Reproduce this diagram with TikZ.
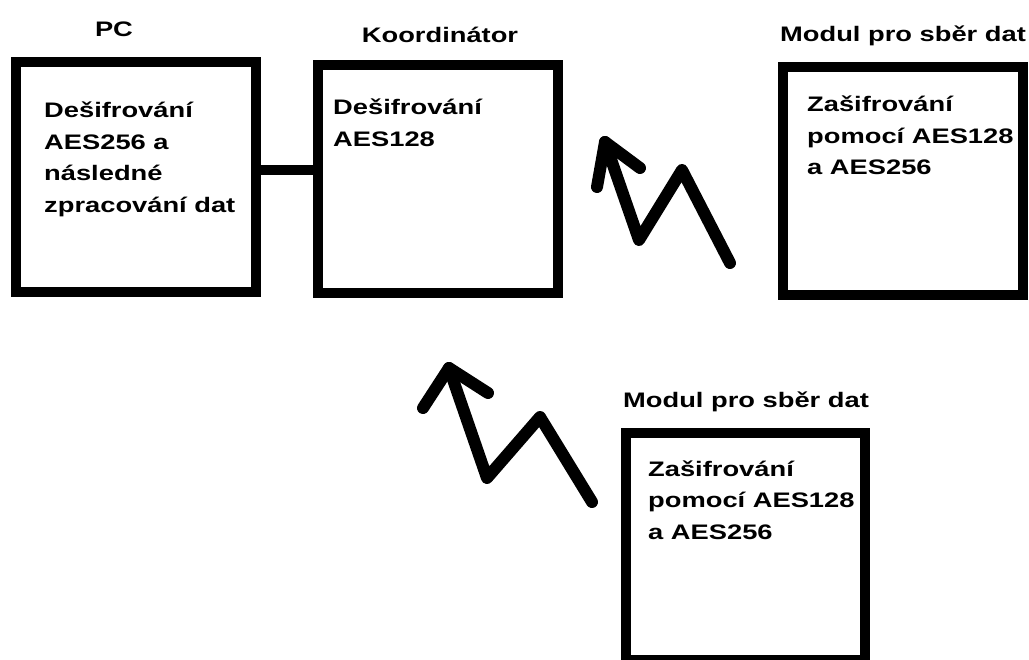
\documentclass[tikz,border=0pt]{standalone}
\usepackage{fontspec}
\setmainfont{Liberation Sans}[FakeStretch=1.3]
\usetikzlibrary{positioning}

\begin{document}
\begin{tikzpicture}[
    x=1pt,y=-1pt,
    block/.style={draw,line width=10pt,minimum width=240pt,minimum height=228pt,inner sep=0pt},
    wire/.style={line width=10pt},
    radio/.style={line width=12pt,line cap=round,line join=round},
    caption/.style={font=\bfseries\fontsize{21}{31.5}\selectfont,inner sep=0pt,anchor=base},
    % multi-line: base sits on the last line
    body/.style={font=\bfseries\fontsize{21}{31.5}\selectfont,inner sep=0pt,align=left,anchor=base west}
  ]
  \useasboundingbox (0,0) rectangle (1029,660);

  % blocks
  \node[block,minimum height=230pt] (pc) at (136,177) {};
  \node[block] (koord) at (438,179) {};
  \node[block] (modA) at (903,181) {};
  \node[block,minimum width=239pt,minimum height=227pt] (modB) at (745.5,546.5) {};

  % titles above the blocks
  \node[caption] (pcT) at (114,37) {PC};
  \node[caption] (koordT) at (440,43) {Koordinátor};
  \node[caption] (modAT) at (903,42) {Modul pro sběr dat};
  \node[caption] (modBT) at (746,408) {Modul pro sběr dat};

  % texts inside
  \node[body] (pcB) at (44,212.5) {Dešifrování\\AES256 a\\následné\\zpracování dat};
  \node[body] (koordB) at (333,146.5) {Dešifrování\\AES128};
  \node[body] (modAB) at (807,175) {Zašifrování\\pomocí AES128\\a AES256};
  \node[body] (modBB) at (648,539) {Zašifrování\\pomocí AES128\\a AES256};

  % cable PC -- koordinator
  \coordinate (tap) at (0,170);
  \draw[wire] (pc.east |- tap) -- (koord.west |- tap);

  % wireless links
  \coordinate (tipA) at (605,142);
  \coordinate (headAl) at (597,187);
  \coordinate (headAr) at (640,168);
  \coordinate (lowA) at (639,240);
  \coordinate (highA) at (682,170);
  \coordinate (endA) at (730,263);
  \draw[radio] (headAl) -- (tipA) -- (headAr);
  \draw[radio] (tipA) -- (lowA) -- (highA) -- (endA);

  \coordinate (tipB) at (449,368);
  \coordinate (headBl) at (423,408);
  \coordinate (headBr) at (488,393);
  \coordinate (lowB) at (487,478);
  \coordinate (highB) at (540,417);
  \coordinate (endB) at (592,502);
  \draw[radio] (headBl) -- (tipB) -- (headBr);
  \draw[radio] (tipB) -- (lowB) -- (highB) -- (endB);
\end{tikzpicture}
\end{document}
